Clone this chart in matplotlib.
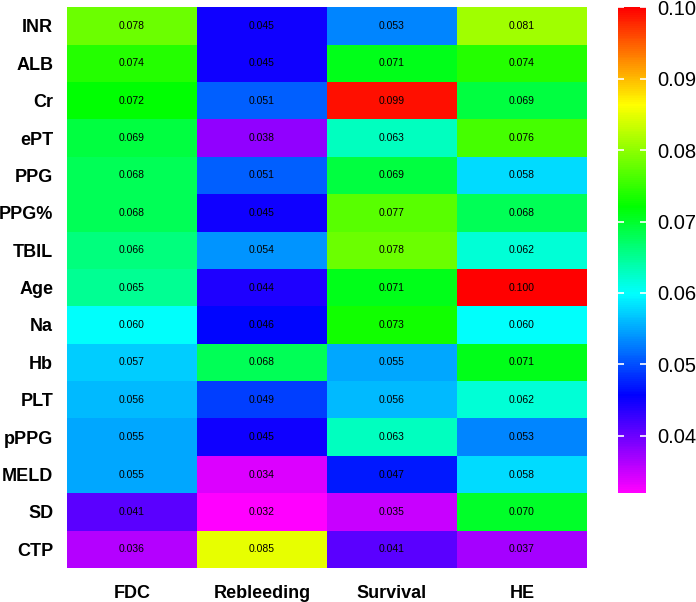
import numpy as np
import matplotlib
matplotlib.use("Agg")
import matplotlib.pyplot as plt
from matplotlib.colors import LinearSegmentedColormap

# dati
rows = ["INR", "ALB", "Cr", "ePT", "PPG", "PPG%", "TBIL", "Age", "Na",
        "Hb", "PLT", "pPPG", "MELD", "SD", "CTP"]
cols = ["FDC", "Rebleeding", "Survival", "HE"]
fdc = [0.078, 0.074, 0.072, 0.069, 0.068, 0.068, 0.066, 0.065, 0.060,
       0.057, 0.056, 0.055, 0.055, 0.041, 0.036]
rebleeding = [0.045, 0.045, 0.051, 0.038, 0.051, 0.045, 0.054, 0.044, 0.046,
              0.068, 0.049, 0.045, 0.034, 0.032, 0.085]
survival = [0.053, 0.071, 0.099, 0.063, 0.069, 0.077, 0.078, 0.071, 0.073,
            0.055, 0.056, 0.063, 0.047, 0.035, 0.041]
he = [0.081, 0.074, 0.069, 0.076, 0.058, 0.068, 0.062, 0.100, 0.060,
      0.071, 0.062, 0.053, 0.058, 0.070, 0.037]

valori = np.column_stack([fdc, rebleeding, survival, he])

# mappa colori arcobaleno (magenta -> rosso)
cmap = LinearSegmentedColormap.from_list("arcobaleno", [
    (0.0, (1, 0, 1)),
    (0.2, (0, 0, 1)),
    (0.41, (0, 1, 1)),
    (0.59, (0, 1, 0)),
    (0.8, (1, 1, 0)),
    (1.0, (1, 0, 0)),
])

fig = plt.figure(figsize=(6.96, 6.02), dpi=100)
ax = fig.add_axes([0.0963, 0.0565, 0.7471, 0.9315])
cax = fig.add_axes([0.888, 0.181, 0.040, 0.807])

vmin, vmax = valori.min(), valori.max()
mesh = ax.pcolormesh(valori, cmap=cmap, vmin=vmin, vmax=vmax)
ax.set_xlim(0, len(cols))
ax.set_ylim(len(rows), 0)

for i in range(len(rows)):
    for j in range(len(cols)):
        ax.text(j + 0.5, i + 0.5, "{:.3f}".format(valori[i, j]),
                ha="center", va="center", fontsize=7.5, family="Liberation Sans")

ax.set_xticks(np.arange(len(cols)) + 0.5)
ax.set_xticklabels(cols, fontsize=13, fontweight="bold", family="Liberation Sans")
ax.set_yticks(np.arange(len(rows)) + 0.5)
ax.set_yticklabels(rows, fontsize=13, fontweight="bold", family="Liberation Sans")
ax.tick_params(length=0, pad=10, axis="y")
ax.tick_params(length=0, pad=12, axis="x")
for s in ax.spines.values():
    s.set_visible(False)

cb = fig.colorbar(mesh, cax=cax)
cb.set_ticks([0.04, 0.05, 0.06, 0.07, 0.08, 0.09, 0.10])
cb.set_ticklabels(["0.04", "0.05", "0.06", "0.07", "0.08", "0.09", "0.10"])
cb.outline.set_visible(False)
cax.tick_params(direction="in", color="white", length=4, width=1.2,
                left=True, right=True, labelsize=14.5, pad=8.5)
for t in cax.get_yticklabels():
    t.set_family("Liberation Sans")

fig.savefig("out.png", dpi=100)
